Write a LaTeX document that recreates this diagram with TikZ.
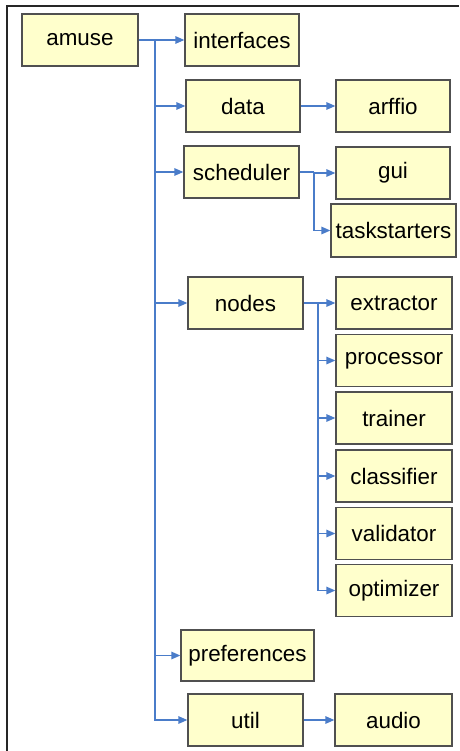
\documentclass[tikz,border=0pt]{standalone}
\usepackage{fontspec}
\setmainfont{Liberation Sans}
\usetikzlibrary{arrows.meta}
\definecolor{boxfill}{HTML}{FFFFCC}
\definecolor{boxline}{HTML}{505050}
\definecolor{conncol}{HTML}{4A7CC9}
\tikzset{
  pkg/.style={draw=boxline, fill=boxfill, line width=1.3pt, minimum height=52pt, minimum width=115pt, inner sep=0pt, font=\fontsize{22.4}{26}\selectfont, text=black},
  conn/.style={draw=conncol, line width=1.4pt, -{Triangle[length=9pt,width=7.5pt]}},
  plain/.style={draw=conncol, line width=1.4pt}
}
\begin{document}
\begin{tikzpicture}[x=1pt,y=-1pt]
\useasboundingbox (0,0) rectangle (459,751);
\fill[white] (0,0) rectangle (459,751);
\draw[line width=2pt, draw=black!85] (7,751) -- (7,6) -- (459,6);
% nodes
\node[pkg, minimum width=116pt] (amuse) at (80,40) {amuse};
\node[pkg, minimum width=114pt] (interfaces) at (242,40) {interfaces};
\node[pkg, minimum width=114pt] (data) at (243,106) {data};
\node[pkg, minimum width=114pt] (arffio) at (393,106) {arffio};
\node[pkg] (scheduler) at (241.5,172) {scheduler};
\node[pkg, minimum width=114pt] (gui) at (393,173) {gui};
\node[pkg, minimum width=125pt, minimum height=53pt] (taskstarters) at (393.5,230.5) {taskstarters};
\node[pkg] (nodes) at (245.5,303) {nodes};
\node[pkg, minimum width=116pt] (extractor) at (394,303) {extractor};
\node[pkg, minimum width=116pt] (processor) at (394,360.5) {processor};
\node[pkg, minimum width=116pt] (trainer) at (394,418) {trainer};
\node[pkg, minimum width=116pt] (classifier) at (394,476) {classifier};
\node[pkg, minimum width=116pt] (validator) at (394,533.5) {validator};
\node[pkg, minimum width=116pt] (optimizer) at (394,590.5) {optimizer};
\node[pkg, minimum width=133pt, minimum height=51pt] (preferences) at (247.5,655.5) {preferences};
\node[pkg] (util) at (245.5,720) {util};
\node[pkg, minimum width=117pt] (audio) at (393.5,720) {audio};
% branch points
\coordinate (t) at (155,40);
\coordinate (s) at (314,172);
\coordinate (n) at (318,303);
% connectors from amuse
\draw[plain] (amuse.east) -- (t);
\draw[conn] (t) -- (interfaces.west);
\draw[conn] (t) |- (data.west);
\draw[conn] (t) |- (scheduler.west);
\draw[conn] (t) |- (nodes.west);
\draw[conn] (t) |- (preferences.west);
\draw[conn] (t) |- (util.west);
% data
\draw[conn] (data.east) -- (arffio.west);
% scheduler
\draw[plain] (scheduler.east) -- (s);
\draw[conn] (s) |- (gui.west);
\draw[conn] (s) |- (taskstarters.west);
% nodes
\draw[plain] (nodes.east) -- (n);
\draw[conn] (n) -- (extractor.west);
\draw[conn] (n) |- (processor.west);
\draw[conn] (n) |- (trainer.west);
\draw[conn] (n) |- (classifier.west);
\draw[conn] (n) |- (validator.west);
\draw[conn] (n) |- (optimizer.west);
% util
\draw[conn] (util.east) -- (audio.west);
\end{tikzpicture}
\end{document}
